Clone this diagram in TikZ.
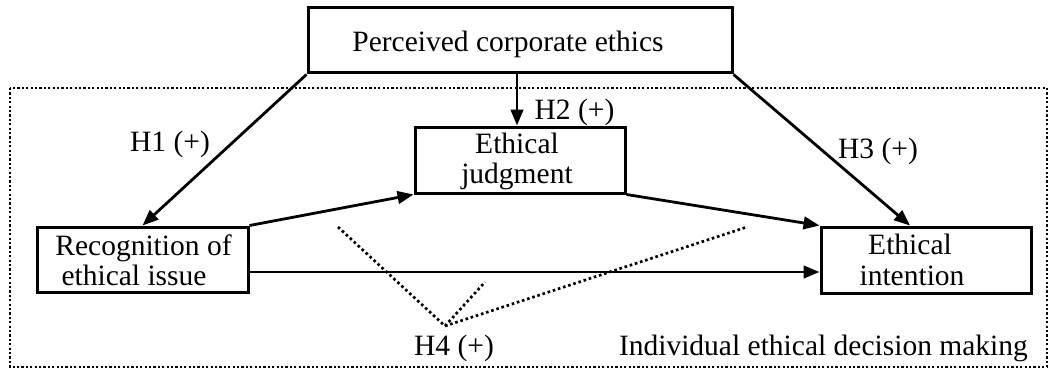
\documentclass[tikz,border=0pt]{standalone}
\usepackage{fontspec}
\setmainfont{Liberation Serif}
\usetikzlibrary{arrows.meta,calc}
\tikzset{
  box/.style={draw, line width=3pt, inner sep=0pt},
  txt/.style={font=\fontsize{29.5}{31}\selectfont, inner sep=0pt, anchor=base},
  arr/.style={line width=2.8pt, -{Triangle[length=16pt,width=12.5pt]}},
  dots/.style={line width=2.7pt, dash pattern=on 2.6pt off 2.8pt},
  frame/.style={line width=2.3pt, dash pattern=on 2.2pt off 2.2pt}
}
\begin{document}
\begin{tikzpicture}[x=1pt,y=-1pt]
\useasboundingbox (0,0) rectangle (1050,369);
% frame of individual ethical decision making
\draw[frame] (10,88) rectangle (1047,367);
% boxes
\node[box, minimum width=424pt, minimum height=65pt] (pce) at (520,40.5) {};
\node[box, minimum width=210pt, minimum height=66pt] (jud) at (520,160) {};
\node[box, minimum width=211pt, minimum height=65pt] (rec) at (142.5,259.5) {};
\node[box, minimum width=210pt, minimum height=66pt] (int) at (926,260) {};
% texts
\node[txt] (pcet) at (508,52) {Perceived corporate ethics};
\node[txt] (judt1) at (517,153) {Ethical};
\node[txt] (judt2) at (517,183) {judgment};
\node[txt] (rect1) at (143.5,255) {Recognition of};
\node[txt] (rect2) at (134,285) {ethical issue};
\node[txt] (intt1) at (910,254) {Ethical};
\node[txt] (intt2) at (912,285) {intention};
\node[txt] (h1) at (170,151) {H1 (+)};
\node[txt] (h2) at (574.5,119) {H2 (+)};
\node[txt] (h3) at (878,158) {H3 (+)};
\node[txt] (h4) at (454,355) {H4 (+)};
\node[txt, anchor=base east] (idm) at (1028,355) {Individual ethical decision making};
% connectors
\draw[arr] (pce.south west) -- (rec.north);
\draw[arr] ($(pce.south)+(-3,0)$) -- ($(jud.north)+(-3,0)$);
\draw[arr] (pce.south east) -- ($(int.north)+(-16,0)$);
\draw[arr] (rec.north east) -- (jud.south west);
\draw[arr] (jud.south east) -- (int.north west);
\draw[arr] ($(rec.east)+(0,12.5)$) -- ($(int.west)+(0,12)$);
% H4 moderating lines
\coordinate (apex) at (445,326);
\coordinate (m1) at (338,227);
\coordinate (m2) at (485,282);
\coordinate (m3) at (747,227);
\draw[dots] (m1) -- (apex) -- (m2);
\draw[dots] (apex) -- (m3);
\end{tikzpicture}
\end{document}
